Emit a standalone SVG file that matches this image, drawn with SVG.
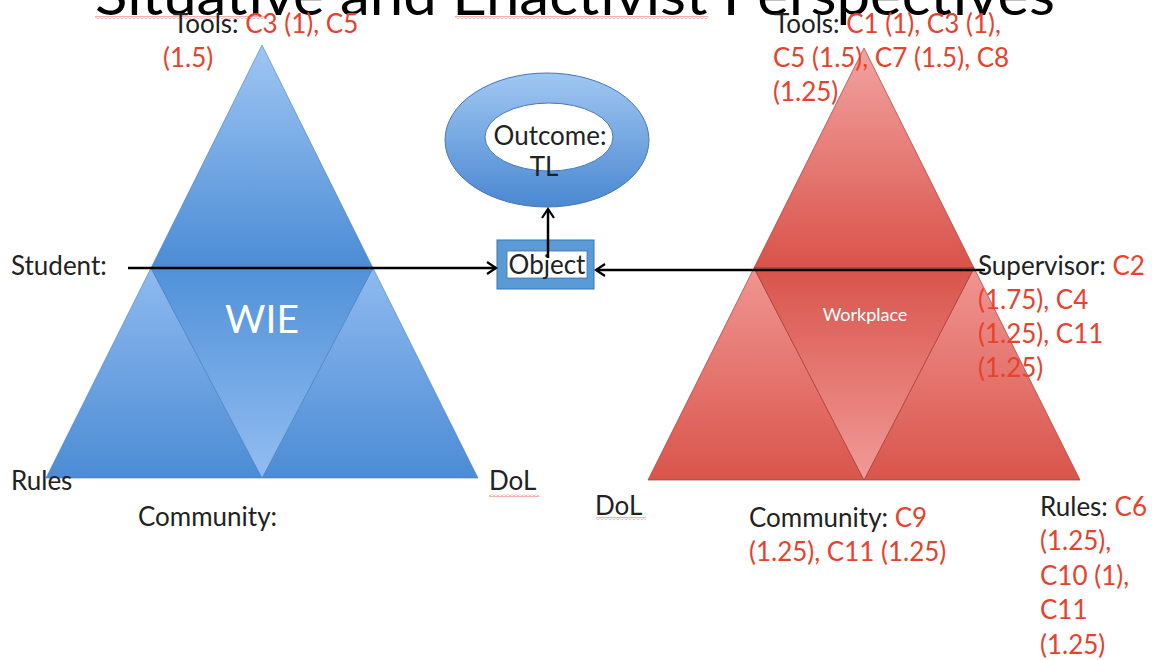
<svg xmlns="http://www.w3.org/2000/svg" width="1152" height="660" viewBox="0 0 1152 660">
<defs>
<style>
.t{font-family:Lato,"Open Sans","Liberation Sans",sans-serif;font-size:26px;fill:#222}
.r{fill:#e8412c}
.edgeB{stroke:#3f78bd;stroke-width:0.8;stroke-opacity:0.7}
.edgeR{stroke:#a83a34;stroke-width:0.9;stroke-opacity:0.8}
.conn{stroke:#000;stroke-width:2.5;fill:none}
</style>
<linearGradient id="bDown" x1="0" y1="0" x2="0" y2="1"><stop offset="0" stop-color="#9fc6f3"/><stop offset="1" stop-color="#4b8cd5"/></linearGradient>
<linearGradient id="bUp" x1="0" y1="0" x2="0" y2="1"><stop offset="0" stop-color="#5091d8"/><stop offset="1" stop-color="#93bdf1"/></linearGradient>
<linearGradient id="bSide" x1="0" y1="0" x2="0" y2="1"><stop offset="0" stop-color="#8fbaef"/><stop offset="1" stop-color="#4c8cd4"/></linearGradient>
<linearGradient id="rDown" x1="0" y1="0" x2="0" y2="1"><stop offset="0" stop-color="#f2a3a1"/><stop offset="1" stop-color="#d9534a"/></linearGradient>
<linearGradient id="rUp" x1="0" y1="0" x2="0" y2="1"><stop offset="0" stop-color="#d8544b"/><stop offset="1" stop-color="#f19b98"/></linearGradient>
<linearGradient id="rSide" x1="0" y1="0" x2="0" y2="1"><stop offset="0" stop-color="#f09592"/><stop offset="1" stop-color="#d9554b"/></linearGradient>
<linearGradient id="ring" x1="0" y1="0" x2="0" y2="1"><stop offset="0" stop-color="#a0c7f2"/><stop offset="1" stop-color="#4a88d1"/></linearGradient>
<pattern id="squig" width="4" height="3" patternUnits="userSpaceOnUse"><polyline points="0,2.5 2,0.5 4,2.5" fill="none" stroke="#e8412c" stroke-width="0.8"/></pattern>
<marker id="ah" markerWidth="12" markerHeight="14" refX="10" refY="7" orient="auto" markerUnits="userSpaceOnUse"><path d="M1,1 L10,7 L1,13" fill="none" stroke="#000" stroke-width="2.2"/></marker>
</defs>
<rect width="1152" height="660" fill="#fff"/>

<g id="title">
<text x="95" y="15" style="font-family:Lato,'Open Sans','Liberation Sans',sans-serif;font-size:56px;fill:#000" textLength="960" lengthAdjust="spacingAndGlyphs">Situative and Enactivist Perspectives</text>
<rect x="95" y="16" width="170" height="3" fill="url(#squig)"/>
<rect x="455" y="16" width="253" height="3" fill="url(#squig)"/>
</g>

<g id="triangle-wie">
<path d="M262,45 L373,268 L151,268 Z" fill="url(#bDown)" class="edgeB"/>
<path d="M151,268 L262,478 L46,478 Z" fill="url(#bSide)" class="edgeB"/>
<path d="M373,268 L478,478 L262,478 Z" fill="url(#bSide)" class="edgeB"/>
<path d="M151,268 L373,268 L262,478 Z" fill="url(#bUp)" class="edgeB"/>
<text x="262" y="333" text-anchor="middle" style="font-family:Lato,'Open Sans',sans-serif;font-size:39px;fill:#fff">WIE</text>
</g>

<g id="triangle-workplace">
<path d="M864,48 L974,268 L754,268 Z" fill="url(#rDown)" class="edgeR"/>
<path d="M754,268 L864,480 L648,480 Z" fill="url(#rSide)" class="edgeR"/>
<path d="M974,268 L1080,480 L864,480 Z" fill="url(#rSide)" class="edgeR"/>
<path d="M754,268 L974,268 L864,480 Z" fill="url(#rUp)" class="edgeR"/>
<text x="865" y="321" text-anchor="middle" style="font-family:Lato,'Open Sans',sans-serif;font-size:18px;fill:#fff">Workplace</text>
</g>

<g id="outcome">
<path d="M445,140 A102,67 0 1,0 649,140 A102,67 0 1,0 445,140 Z M485,137 A64,34 0 1,1 613,137 A64,34 0 1,1 485,137 Z" fill="url(#ring)" fill-rule="evenodd" stroke="#4479bd" stroke-width="1"/>
<text x="550" y="145" text-anchor="middle" class="t">Outcome:</text>
<text x="544" y="176" text-anchor="middle" class="t">TL</text>
</g>

<g id="object">
<rect x="497" y="240" width="97" height="49" fill="#5b9bd5" stroke="#3d73b5" stroke-width="1"/>
<rect x="507" y="251" width="80" height="27" fill="#fff" stroke="#3d73b5" stroke-width="0.8"/>
<text x="547" y="274" text-anchor="middle" class="t">Object</text>
</g>

<g id="connectors">
<line x1="128" y1="268" x2="496" y2="268" class="conn" marker-end="url(#ah)"/>
<line x1="985" y1="270" x2="596" y2="270" class="conn" marker-end="url(#ah)"/>
<line x1="548" y1="258" x2="548" y2="209" class="conn" stroke-width="2" marker-end="url(#ah)"/>
</g>

<g id="labels-left">
<text x="173" y="33" class="t">Tools: <tspan class="r">C3 (1), C5</tspan></text>
<text x="163" y="67" class="t r">(1.5)</text>
<text x="11" y="275" class="t">Student:</text>
<text x="11" y="490" class="t">Rules</text>
<text x="489" y="490" class="t">DoL</text>
<rect x="489" y="494" width="50" height="3" fill="url(#squig)"/>
<text x="138" y="526" class="t">Community:</text>
</g>

<g id="labels-right">
<text x="774" y="33" class="t">Tools: <tspan class="r">C1 (1), C3 (1),</tspan></text>
<text x="773" y="67" class="t r">C5 (1.5), C7 (1.5), C8</text>
<text x="773" y="101" class="t r">(1.25)</text>
<text x="978" y="275" class="t">Supervisor: <tspan class="r">C2</tspan></text>
<text x="978" y="309" class="t r">(1.75), C4</text>
<text x="978" y="343" class="t r">(1.25), C11</text>
<text x="978" y="377" class="t r">(1.25)</text>
<text x="595" y="515" class="t">DoL</text>
<rect x="596" y="517" width="50" height="3" fill="url(#squig)"/>
<text x="749" y="527" class="t">Community: <tspan class="r">C9</tspan></text>
<text x="749" y="561" class="t r">(1.25), C11 (1.25)</text>
<text x="1040" y="516" class="t">Rules: <tspan class="r">C6</tspan></text>
<text x="1040" y="550" class="t r">(1.25),</text>
<text x="1040" y="585" class="t r">C10 (1),</text>
<text x="1040" y="619" class="t r">C11</text>
<text x="1040" y="654" class="t r">(1.25)</text>
</g>
</svg>
